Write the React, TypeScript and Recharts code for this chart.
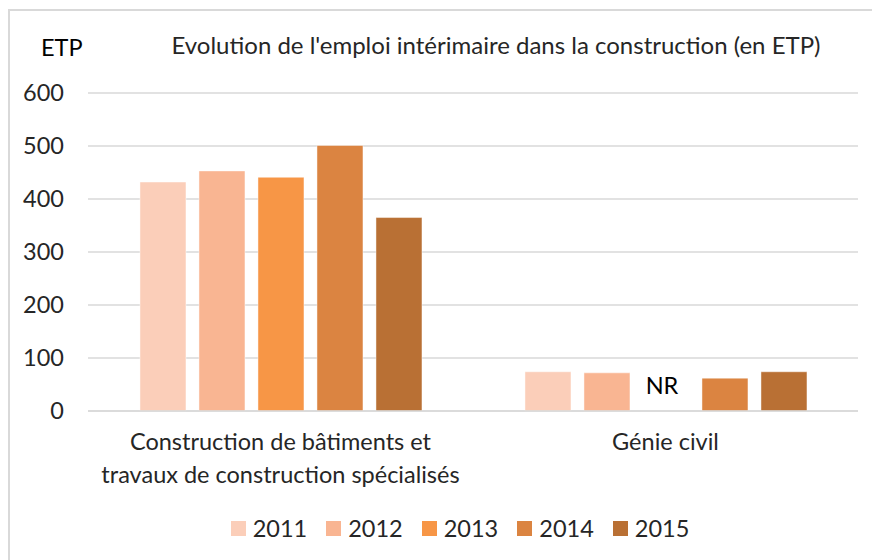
import { Bar, BarChart, CartesianGrid, Legend, Rectangle, XAxis, YAxis } from "recharts";

const categories = [
  ["Construction de bâtiments et", "travaux de construction spécialisés"],
  ["Génie civil"],
];
const years = ["2011", "2012", "2013", "2014", "2015"];
const colors = ["#fbceb9", "#f9b592", "#f79646", "#db8441", "#b97034"];

// valeurs en ETP, null = non renseigné
const v2011 = [432, 74];
const v2012 = [453, 72];
const v2013: (number | null)[] = [441, null];
const v2014 = [501, 62];
const v2015 = [365, 74];

const series = [v2011, v2012, v2013, v2014, v2015];
const yTicks = [0, 100, 200, 300, 400, 500, 600];

const data = categories.map((lines, i) => {
  const row: Record<string, unknown> = { name: lines.join(" ") };
  years.forEach((y, k) => {
    row[y] = series[k][i] ?? 0;
    row["nr" + y] = series[k][i] == null;
  });
  return row;
});

const font = "Lato, 'Open Sans', sans-serif";
const fs = 23.5;

const CategoryTick = (props: any) => {
  const { x, y, payload, index } = props;
  const lines = categories[index] ?? [payload.value];
  return (
    <text x={x} y={y} textAnchor="middle" fill="#262626" fontFamily={font} fontSize={fs}>
      {lines.map((l, i) => (
        <tspan key={i} x={x} dy={i === 0 ? 31 : 33}>
          {l}
        </tspan>
      ))}
    </text>
  );
};

const LegendContent = () => (
  <div
    style={{
      display: "flex",
      justifyContent: "center",
      alignItems: "center",
      paddingLeft: 62,
      marginTop: 6,
      fontFamily: font,
      fontSize: fs,
      color: "#262626",
    }}
  >
    {years.map((y, k) => (
      <div key={y} style={{ display: "flex", alignItems: "center", marginRight: k < years.length - 1 ? 19 : 0 }}>
        <span style={{ display: "inline-block", width: 15, height: 15, background: colors[k], marginRight: 7 }} />
        <span>{y}</span>
      </div>
    ))}
  </div>
);

const makeShape = (y: string) => (p: any) => {
  const nr = p.payload?.["nr" + y];
  return (
    <g>
      <Rectangle {...p} />
      {nr ? (
        <text
          x={p.x + p.width / 2 - 4}
          y={p.y + p.height - 26}
          textAnchor="middle"
          dominantBaseline="central"
          fontFamily={font}
          fontSize={fs}
          fill="#000"
        >
          NR
        </text>
      ) : null}
    </g>
  );
};

export default function App() {
  return (
    <div style={{ position: "absolute", left: 0, top: 0, width: 872, height: 560, background: "#fff", overflow: "hidden" }}>
      <div
        style={{
          position: "absolute",
          left: 8,
          top: 9,
          width: 900,
          height: 600,
          borderLeft: "2px solid #d9d9d9",
          borderTop: "2px solid #d9d9d9",
        }}
      />
      <div style={{ position: "absolute", left: 41, top: 33, fontFamily: font, fontSize: fs, color: "#000" }}>ETP</div>
      <div
        style={{
          position: "absolute",
          left: 0,
          width: 992,
          top: 30,
          textAlign: "center",
          fontFamily: font,
          fontSize: 24,
          color: "#262626",
        }}
      >
        Evolution de l'emploi intérimaire dans la construction (en ETP)
      </div>
      <BarChart
        width={872}
        height={560}
        data={data}
        margin={{ top: 93, right: 14, bottom: 12, left: 0 }}
        barCategoryGap="13.5%"
        barGap={13}
        style={{ position: "absolute", left: 0, top: 0 }}
      >
        <CartesianGrid vertical={false} stroke="#d9d9d9" strokeWidth={1.5} />
        <XAxis
          dataKey="name"
          tick={<CategoryTick />}
          axisLine={{ stroke: "#d9d9d9", strokeWidth: 1.5 }}
          tickLine={false}
          height={97}
          interval={0}
        />
        <YAxis
          domain={[0, 600]}
          ticks={yTicks}
          width={88}
          axisLine={false}
          tickLine={false}
          tickSize={0}
          tickMargin={24}
          tick={{ fill: "#262626", fontFamily: font, fontSize: fs }}
        />
        <Legend verticalAlign="bottom" height={40} content={<LegendContent />} />
        {years.map((y, k) => (
          <Bar
            key={y}
            dataKey={y}
            fill={colors[k]}
            stroke="#ffffff"
            strokeOpacity={0.45}
            isAnimationActive={false}
            shape={makeShape(y)}
          />
        ))}
      </BarChart>
    </div>
  );
}
